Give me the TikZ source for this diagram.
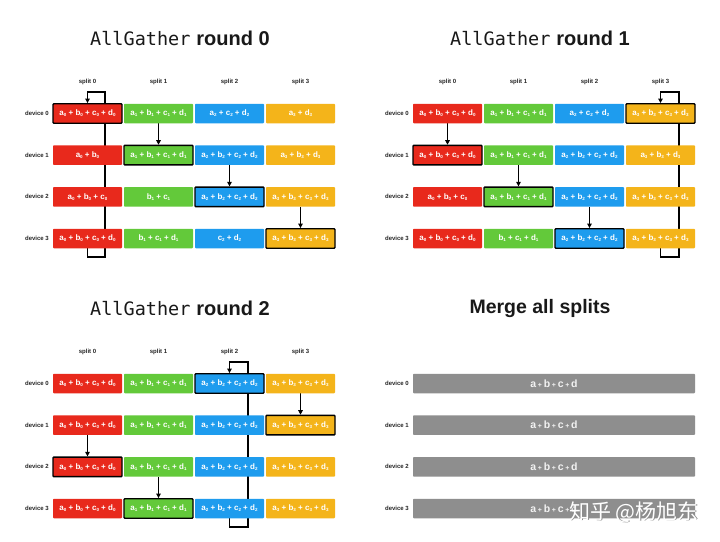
\documentclass[tikz,border=0pt]{standalone}
\usepackage{fontspec}
\setmainfont{Liberation Sans}
\newfontfamily\monof{DejaVu Sans Mono}
\newfontfamily\cjkf{Noto Sans CJK SC}
\usetikzlibrary{arrows.meta}
\definecolor{cR}{HTML}{E8291C}
\definecolor{cG}{HTML}{63C93A}
\definecolor{cB}{HTML}{1E9CEE}
\definecolor{cY}{HTML}{F4B41A}
\definecolor{cK}{HTML}{8E8E8E}
\pgfdeclarelayer{paper}
\pgfdeclarelayer{bg}
\pgfsetlayers{paper,bg,main}
\newcommand\ix[1]{\raisebox{-.2ex}{\fontsize{4.5}{5}\selectfont #1}}
\newcommand\full[1]{a\ix{#1} + b\ix{#1} + c\ix{#1} + d\ix{#1}}
\newcommand\pl{\,{\fontsize{7}{7}\selectfont +}\,}
\newcommand\cellnode[6]{\node[cell,fill=#4,#5] (#1) at ({87.5+71*#2},{113.5+41.67*#3}) {#6};}
\newcommand\devlabels[1]{\foreach \r in {0,...,3} {\node[devlab] (#1d\r) at (49,{113.5+41.67*\r}) {device \r};}}
\newcommand\splitlabels[1]{\foreach \c in {0,...,3} {\node[splitlab] (#1s\c) at ({87.5+71*\c},82) {split \c};}}
\newcommand\roundtitle[1]{{\monof\fontsize{18.5}{22}\selectfont AllGather}\hspace{6pt}{\fontsize{20}{22}\selectfont\bfseries round #1}}
\tikzset{
 cell/.style={minimum width=69pt, minimum height=19.5pt, inner sep=0pt, rounded corners=0.8pt, text=white, font=\fontsize{8}{9}\selectfont\bfseries},
 hl/.style={draw=black, line width=1.4pt},
 conn/.style={draw=black, line width=1.2pt},
 tip/.style={-{Triangle[length=4.5pt,width=4.5pt]}},
 devlab/.style={anchor=east, inner sep=0pt, font=\fontsize{6}{7}\selectfont\bfseries, text=black!85},
 splitlab/.style={inner sep=0pt, font=\fontsize{6}{7}\selectfont\bfseries, text=black!85},
 title/.style={inner sep=0pt, text=black!90},
 graybar/.style={minimum width=282pt, minimum height=19.5pt, inner sep=0pt, rounded corners=0.8pt, fill=cK, text=white!95!black, font=\fontsize{10.5}{11}\selectfont\bfseries},
}
\begin{document}
\begin{tikzpicture}[x=1pt,y=-1pt]
\begin{pgfonlayer}{paper}
\fill[white] (0,0) rectangle (720,541);
\end{pgfonlayer}
\useasboundingbox (0,0) rectangle (720,541);

% ---------------- Panel A: round 0 ----------------
\begin{scope}
\node[title] (At) at (180,38) {\roundtitle{0}};
\splitlabels{A}
\devlabels{A}
\cellnode{A00}{0}{0}{cR}{hl}{\full0}
\cellnode{A01}{1}{0}{cG}{}{\full1}
\cellnode{A02}{2}{0}{cB}{}{a\ix2 + c\ix2 + d\ix2}
\cellnode{A03}{3}{0}{cY}{}{a\ix3 + d\ix3}
\cellnode{A10}{0}{1}{cR}{}{a\ix0 + b\ix0}
\cellnode{A11}{1}{1}{cG}{hl}{\full1}
\cellnode{A12}{2}{1}{cB}{}{\full2}
\cellnode{A13}{3}{1}{cY}{}{a\ix3 + b\ix3 + d\ix3}
\cellnode{A20}{0}{2}{cR}{}{a\ix0 + b\ix0 + c\ix0}
\cellnode{A21}{1}{2}{cG}{}{b\ix1 + c\ix1}
\cellnode{A22}{2}{2}{cB}{hl}{\full2}
\cellnode{A23}{3}{2}{cY}{}{\full3}
\cellnode{A30}{0}{3}{cR}{}{\full0}
\cellnode{A31}{1}{3}{cG}{}{b\ix1 + c\ix1 + d\ix1}
\cellnode{A32}{2}{3}{cB}{}{c\ix2 + d\ix2}
\cellnode{A33}{3}{3}{cY}{hl}{\full3}
\coordinate (Alb) at (105,257);
\coordinate (Alt) at (105,92);
\begin{pgfonlayer}{bg}
\draw[conn,tip] (A30.south) |- (Alb) -- (Alt) -| (A00.north);
\draw[conn,tip] (A01.south) -- (A11.north);
\draw[conn,tip] (A12.south) -- (A22.north);
\draw[conn,tip] (A23.south) -- (A33.north);
\end{pgfonlayer}
\end{scope}

% ---------------- Panel B: round 1 ----------------
\begin{scope}[shift={(360,0)}]
\node[title] (Bt) at (180,38) {\roundtitle{1}};
\splitlabels{B}
\devlabels{B}
\cellnode{B00}{0}{0}{cR}{}{\full0}
\cellnode{B01}{1}{0}{cG}{}{\full1}
\cellnode{B02}{2}{0}{cB}{}{a\ix2 + c\ix2 + d\ix2}
\cellnode{B03}{3}{0}{cY}{hl}{\full3}
\cellnode{B10}{0}{1}{cR}{hl}{\full0}
\cellnode{B11}{1}{1}{cG}{}{\full1}
\cellnode{B12}{2}{1}{cB}{}{\full2}
\cellnode{B13}{3}{1}{cY}{}{a\ix3 + b\ix3 + d\ix3}
\cellnode{B20}{0}{2}{cR}{}{a\ix0 + b\ix0 + c\ix0}
\cellnode{B21}{1}{2}{cG}{hl}{\full1}
\cellnode{B22}{2}{2}{cB}{}{\full2}
\cellnode{B23}{3}{2}{cY}{}{\full3}
\cellnode{B30}{0}{3}{cR}{}{\full0}
\cellnode{B31}{1}{3}{cG}{}{b\ix1 + c\ix1 + d\ix1}
\cellnode{B32}{2}{3}{cB}{hl}{\full2}
\cellnode{B33}{3}{3}{cY}{}{\full3}
\coordinate (Blb) at (319,257);
\coordinate (Blt) at (319,92);
\begin{pgfonlayer}{bg}
\draw[conn,tip] (B33.south) |- (Blb) -- (Blt) -| (B03.north);
\draw[conn,tip] (B00.south) -- (B10.north);
\draw[conn,tip] (B11.south) -- (B21.north);
\draw[conn,tip] (B22.south) -- (B32.north);
\end{pgfonlayer}
\end{scope}

% ---------------- Panel C: round 2 ----------------
\begin{scope}[shift={(0,270)}]
\node[title] (Ct) at (180,38) {\roundtitle{2}};
\splitlabels{C}
\devlabels{C}
\cellnode{C00}{0}{0}{cR}{}{\full0}
\cellnode{C01}{1}{0}{cG}{}{\full1}
\cellnode{C02}{2}{0}{cB}{hl}{\full2}
\cellnode{C03}{3}{0}{cY}{}{\full3}
\cellnode{C10}{0}{1}{cR}{}{\full0}
\cellnode{C11}{1}{1}{cG}{}{\full1}
\cellnode{C12}{2}{1}{cB}{}{\full2}
\cellnode{C13}{3}{1}{cY}{hl}{\full3}
\cellnode{C20}{0}{2}{cR}{hl}{\full0}
\cellnode{C21}{1}{2}{cG}{}{\full1}
\cellnode{C22}{2}{2}{cB}{}{\full2}
\cellnode{C23}{3}{2}{cY}{}{\full3}
\cellnode{C30}{0}{3}{cR}{}{\full0}
\cellnode{C31}{1}{3}{cG}{hl}{\full1}
\cellnode{C32}{2}{3}{cB}{}{\full2}
\cellnode{C33}{3}{3}{cY}{}{\full3}
\coordinate (Clb) at (248,257);
\coordinate (Clt) at (248,92);
\begin{pgfonlayer}{bg}
\draw[conn,tip] (C32.south) |- (Clb) -- (Clt) -| (C02.north);
\draw[conn,tip] (C03.south) -- (C13.north);
\draw[conn,tip] (C10.south) -- (C20.north);
\draw[conn,tip] (C21.south) -- (C31.north);
\end{pgfonlayer}
\end{scope}

% ---------------- Panel D: merge ----------------
\begin{scope}[shift={(360,270)}]
\node[title, font=\fontsize{19.5}{22}\selectfont\bfseries] (Dt) at (180,38) {Merge all splits};
\devlabels{D}
\foreach \r in {0,...,3} {\node[graybar] (Dbar\r) at (194,{113.5+41.67*\r}) {a\pl b\pl c\pl d};}
\node[text=black!45, font=\cjkf\fontsize{21}{24}\selectfont, inner sep=0pt] (wms) at (274.8,242.8) {知乎 @杨旭东};
\node[text=white, font=\cjkf\fontsize{21}{24}\selectfont, inner sep=0pt] (wm) at (274,242) {知乎 @杨旭东};
\end{scope}
\end{tikzpicture}
\end{document}
